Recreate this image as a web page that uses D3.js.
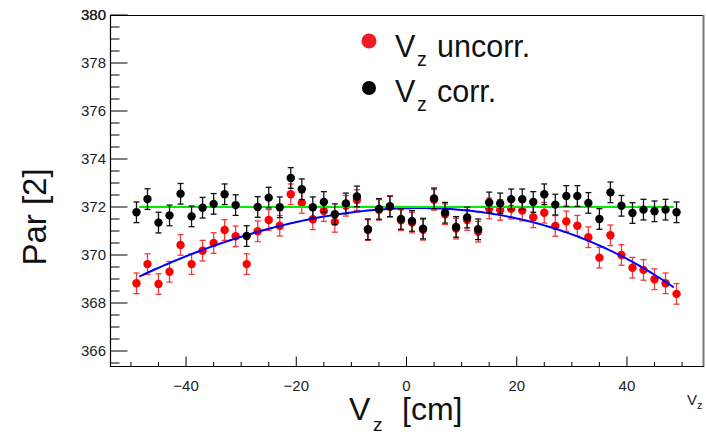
<!DOCTYPE html>
<html>
<head>
<meta charset="utf-8">
<script src="https://cdn.jsdelivr.net/npm/d3@7"></script>
<style>
  html, body { margin: 0; padding: 0; background: #fff; }
  svg { display: block; font-family: "Liberation Sans", Arial, Helvetica, sans-serif; }
</style>
</head>
<body>
<svg id="chart" width="706" height="432"></svg>
<script>
// Vertex z positions (cm), one bin every 2 cm
const vz = d3.range(-49, 50, 2);

// Fitted Par[2] before the z correction
const parUncorr = [
  368.82, 369.62, 368.79, 369.30, 370.42, 369.62, 370.18, 370.50, 371.04, 370.78,
  369.62, 370.99, 371.46, 371.22, 372.53, 372.17, 371.49, 371.83, 371.38, 372.05,
  372.29, 371.04, 371.88, 372.01, 371.45, 371.35, 371.05, 372.30, 371.70, 371.10,
  371.46, 370.97, 371.94, 371.88, 371.93, 371.85, 371.57, 371.76, 371.21, 371.40,
  371.22, 370.74, 369.89, 370.82, 370.00, 369.47, 369.38, 368.99, 368.82, 368.38
];

// Fitted Par[2] after the z correction
const parCorr = [
  371.78, 372.33, 371.35, 371.65, 372.55, 371.61, 371.97, 372.13, 372.53, 372.08,
  370.79, 372.00, 372.39, 371.99, 373.21, 372.74, 371.99, 372.21, 371.70, 372.15,
  372.44, 371.07, 371.92, 372.03, 371.50, 371.42, 371.10, 372.36, 371.76, 371.17,
  371.56, 371.07, 372.19, 372.15, 372.32, 372.32, 372.21, 372.53, 372.10, 372.46,
  372.46, 372.17, 371.50, 372.61, 372.05, 371.75, 371.89, 371.82, 371.89, 371.78
];

// Symmetric error on every point
const parError = 0.43;

// Fit results: pol4 in t = vz/50 for the uncorrected set, pol0 for the corrected set
const uncorrFitCoeffs = [371.95, 0.2775, -3.106, -0.5414, -0.172];
const corrFitLevel = 372.0;
const fitRange = [-48.5, 48.5];

// Axis settings
const xDomain = [-53.8, 53.8];
const yDomain = [365.375, 380];
const xMajorTicks = [-40, -20, 0, 20, 40];
const xMinorTicks = d3.range(-50, 51, 5);
const yMajorTicks = d3.range(366, 381, 2);
const yMinorTicks = d3.range(365.5, 380.01, 0.5);

const legendLabels = ["uncorr.", "corr."];

const svg = d3.select("#chart");
const frame = { left: 110, right: 703, top: 15, bottom: 366 };

const x = d3.scaleLinear().domain(xDomain).range([frame.left, frame.right]);
const y = d3.scaleLinear().domain(yDomain).range([frame.bottom, frame.top]);

// Frame
svg.append("line").attr("x1", frame.left).attr("x2", frame.right)
  .attr("y1", frame.top + 0.5).attr("y2", frame.top + 0.5)
  .attr("stroke", "#000").attr("stroke-width", 1.2);
svg.append("line").attr("x1", frame.right + 0.5).attr("x2", frame.right + 0.5)
  .attr("y1", frame.top).attr("y2", frame.bottom + 1)
  .attr("stroke", "#777").attr("stroke-width", 2);

// Bottom axis: ticks point up into the frame
const xAxisG = svg.append("g").attr("transform", `translate(0,${frame.bottom + 0.5})`);
xAxisG.append("line").attr("x1", frame.left).attr("x2", frame.right + 1)
  .attr("stroke", "#000").attr("stroke-width", 1.2);
xAxisG.selectAll("line.minor").data(xMinorTicks.filter(v => !xMajorTicks.includes(v)))
  .join("line").attr("class", "minor")
  .attr("x1", d => x(d)).attr("x2", d => x(d)).attr("y1", 0).attr("y2", -4.5)
  .attr("stroke", "#000").attr("stroke-width", 1);
xAxisG.selectAll("line.major").data(xMajorTicks)
  .join("line").attr("class", "major")
  .attr("x1", d => x(d)).attr("x2", d => x(d)).attr("y1", 0).attr("y2", -10)
  .attr("stroke", "#000").attr("stroke-width", 1);
xAxisG.selectAll("text").data(xMajorTicks).join("text")
  .attr("x", d => x(d)).attr("y", 24.5)
  .attr("text-anchor", "middle").attr("font-size", 15).attr("fill", "#222")
  .text(d => d < 0 ? "\u2212" + Math.abs(d) : d);

// Left axis: ticks point right into the frame
const yAxisG = svg.append("g").attr("transform", `translate(${frame.left + 0.5},0)`);
yAxisG.append("line").attr("y1", frame.top).attr("y2", frame.bottom + 1)
  .attr("stroke", "#000").attr("stroke-width", 1.2);
yAxisG.selectAll("line.minor").data(yMinorTicks.filter(v => !yMajorTicks.includes(v)))
  .join("line").attr("class", "minor")
  .attr("y1", d => y(d)).attr("y2", d => y(d)).attr("x1", 0).attr("x2", 9)
  .attr("stroke", "#000").attr("stroke-width", 1);
yAxisG.selectAll("line.major").data(yMajorTicks)
  .join("line").attr("class", "major")
  .attr("y1", d => y(d)).attr("y2", d => y(d)).attr("x1", 0).attr("x2", 17)
  .attr("stroke", "#000").attr("stroke-width", 1);
yAxisG.selectAll("text").data(yMajorTicks.concat([380])).join("text")
  .attr("x", -4.5).attr("y", d => y(d) + 5.3)
  .attr("text-anchor", "end").attr("font-size", 15).attr("fill", "#222")
  .text(d => d);

// Axis titles
svg.append("text")
  .attr("transform", "translate(46,217) rotate(-90)")
  .attr("text-anchor", "middle").attr("font-size", 33).attr("fill", "#111")
  .text("Par [2]");
svg.append("text").attr("x", 349).attr("y", 420).attr("font-size", 32).attr("fill", "#111").text("V");
svg.append("text").attr("x", 373).attr("y", 431).attr("font-size", 19).attr("fill", "#111").text("z");
svg.append("text").attr("x", 402).attr("y", 420).attr("font-size", 32).attr("fill", "#111").text("[cm]");
svg.append("text").attr("x", 687).attr("y", 405).attr("font-size", 15).attr("fill", "#222").text("V");
svg.append("text").attr("x", 697).attr("y", 409).attr("font-size", 11).attr("fill", "#222").text("z");

// Fit curves
const pol = (c, t) => c.reduce((s, k, i) => s + k * Math.pow(t, i), 0);
const fitXs = d3.range(fitRange[0], fitRange[1] + 0.001, 0.5);
const line = d3.line().x(d => x(d[0])).y(d => y(d[1]));

function drawSeries(values, barColor) {
  const g = svg.append("g");
  const pts = vz.map((v, i) => ({ x: v, y: values[i] }));
  g.selectAll("line.bar").data(pts).join("line").attr("class", "bar")
    .attr("x1", d => x(d.x)).attr("x2", d => x(d.x))
    .attr("y1", d => y(d.y - parError)).attr("y2", d => y(d.y + parError))
    .attr("stroke", barColor).attr("stroke-width", 1.3);
  [1, -1].forEach(sgn => {
    g.selectAll("line.cap" + sgn).data(pts).join("line")
      .attr("class", "cap" + sgn)
      .attr("x1", d => x(d.x) - 3).attr("x2", d => x(d.x) + 3)
      .attr("y1", d => y(d.y + sgn * parError))
      .attr("y2", d => y(d.y + sgn * parError))
      .attr("stroke", barColor).attr("stroke-width", 1.3);
  });
  return { g, pts };
}

const red = drawSeries(parUncorr, "#f23a3a");
svg.append("path")
  .datum(fitXs.map(v => [v, pol(uncorrFitCoeffs, v / 50)]))
  .attr("d", line).attr("fill", "none").attr("stroke", "#0000ff").attr("stroke-width", 2);
red.g.selectAll("circle").data(red.pts).join("circle")
  .attr("cx", d => x(d.x)).attr("cy", d => y(d.y)).attr("r", 4.2).attr("fill", "#ff0000");

svg.append("path")
  .datum([[fitRange[0], corrFitLevel], [fitRange[1], corrFitLevel]])
  .attr("d", line).attr("fill", "none").attr("stroke", "#00ee00").attr("stroke-width", 2);
const blk = drawSeries(parCorr, "#111");
blk.g.selectAll("circle").data(blk.pts).join("circle")
  .attr("cx", d => x(d.x)).attr("cy", d => y(d.y)).attr("r", 4.2).attr("fill", "#000");

// Legend
const legend = svg.append("g");
const legendRows = [
  { label: legendLabels[0], color: "#ee1c25", r: 7.5, cy: 41, base: 56.5 },
  { label: legendLabels[1], color: "#000", r: 7, cy: 88, base: 102 }
];
legendRows.forEach(row => {
  legend.append("circle").attr("cx", 369).attr("cy", row.cy).attr("r", row.r).attr("fill", row.color);
  legend.append("text").attr("x", 395).attr("y", row.base).attr("font-size", 30.5).attr("fill", "#111").text("V");
  legend.append("text").attr("x", 417).attr("y", row.base + 9).attr("font-size", 19.5).attr("fill", "#111").text("z");
  legend.append("text").attr("x", 437).attr("y", row.base).attr("font-size", 30.5).attr("fill", "#111").text(row.label);
});
</script>
</body>
</html>
